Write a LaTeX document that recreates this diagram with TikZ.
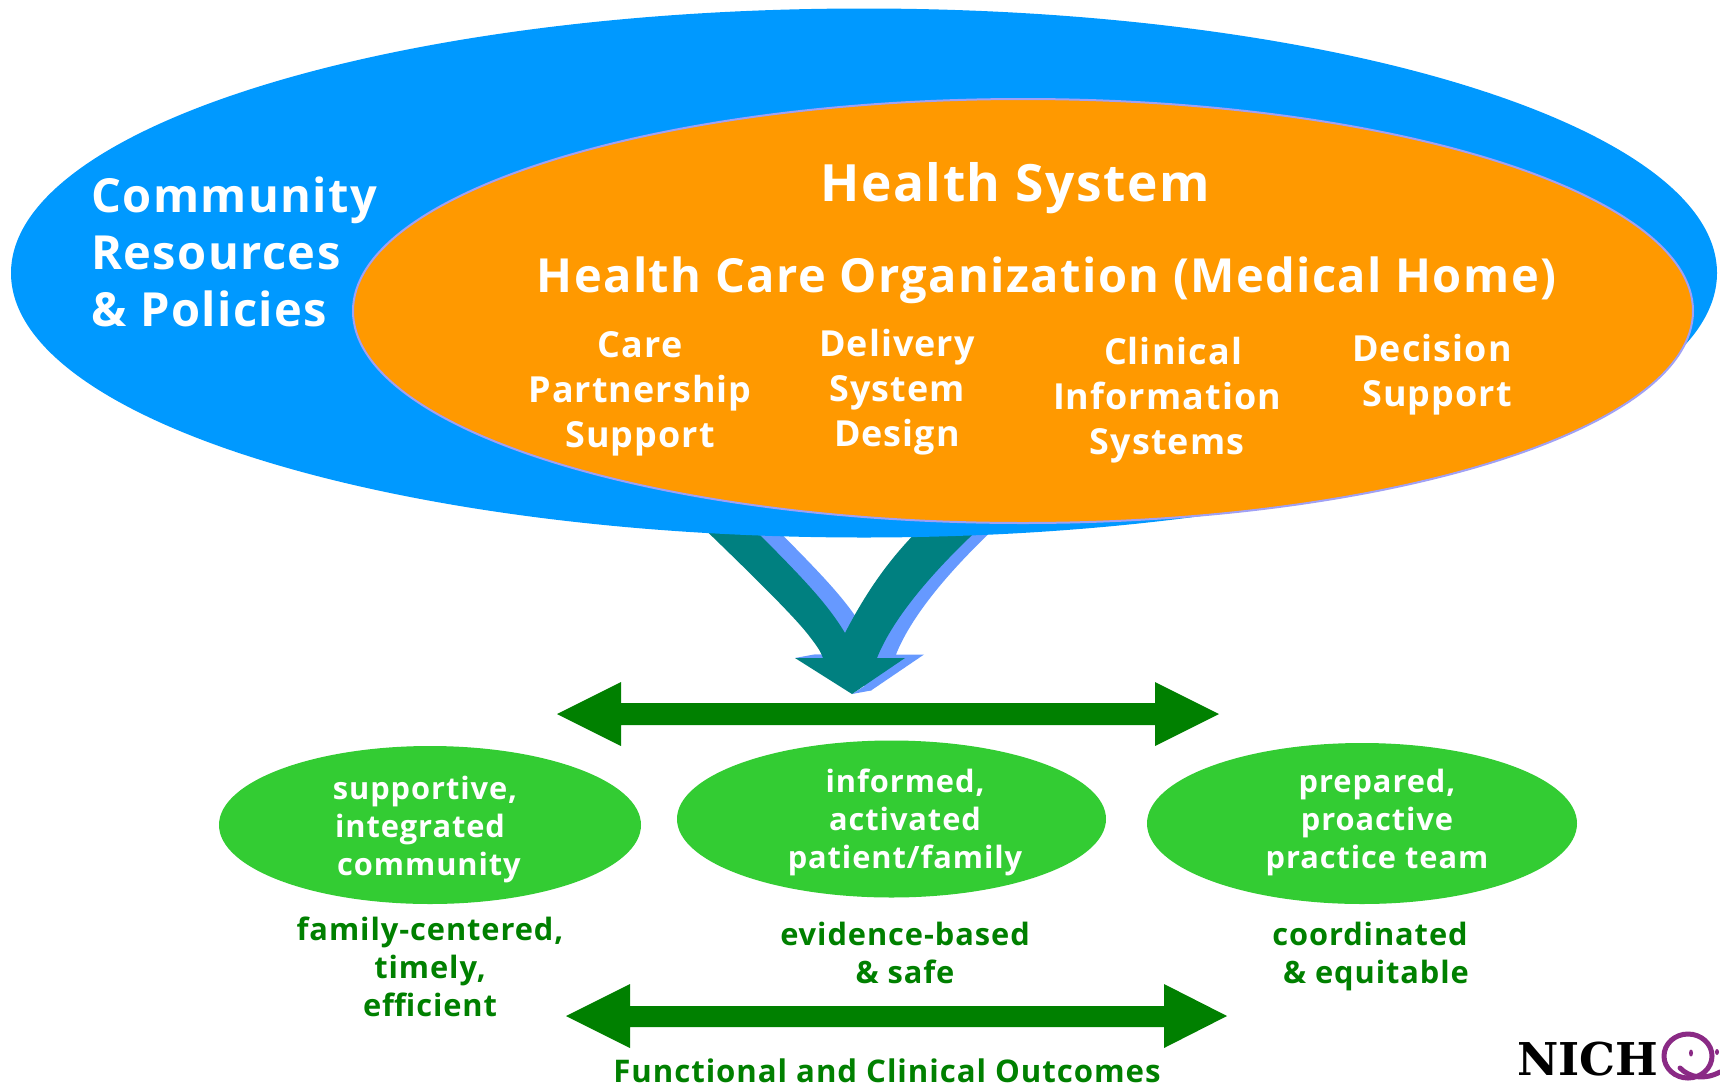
\documentclass[tikz,border=0pt]{standalone}
\usepackage{fontspec}
\setmainfont{Open Sans}[LetterSpace=3]
\newfontfamily\logofont{DejaVu Serif}
\usetikzlibrary{shapes.geometric}
\definecolor{skyblue}{HTML}{0099FF}
\definecolor{amber}{HTML}{FF9900}
\definecolor{rimblue}{HTML}{A0A0F5}
\definecolor{tealc}{HTML}{008080}
\definecolor{shadowc}{HTML}{6699FF}
\definecolor{darkg}{HTML}{008000}
\definecolor{lightg}{HTML}{33CC33}
\definecolor{logoq}{HTML}{8A2A85}
\tikzset{
  x=0.5pt,y=-0.5pt,
  oval/.style={ellipse,inner sep=0pt,outer sep=0pt},
  big/.style={anchor=base,inner sep=0pt,text=white,font=\bfseries\fontsize{23.5}{28.5}\selectfont,align=center},
  mid/.style={anchor=base,inner sep=0pt,text=white,font=\bfseries\fontsize{17.95}{22.5}\selectfont,align=center},
  small/.style={anchor=base,inner sep=0pt,text=white,font=\bfseries\fontsize{15.4}{19}\selectfont,align=center},
  dgtext/.style={small,text=darkg},
  dblarrow/.style={fill=darkg,draw=none},
}
\newcommand{\vpath}{(680,505) .. controls (710,535) and (790,610) .. (810,637) .. controls (817,646) and (821,652) .. (823,658) -- (795,658) -- (852,694) -- (905,658) -- (877,658) .. controls (890,625) and (925,575) .. (1005,505) -- (945,505) .. controls (905,540) and (875,575) .. (845,633) .. controls (825,600) and (800,575) .. (730,505) -- cycle}
\begin{document}
\begin{tikzpicture}
\useasboundingbox (0,0) rectangle (1720,1088);
\clip (0,0) rectangle (1720,1088);
\fill[white] (0,0) rectangle (1720,1088);
% merging arrow and its shadow
\fill[shadowc,shift={(19,-3.5)}] \vpath;
\fill[shadowc] (795,658) -- (814,654.5) -- (830,654.5) -- (830,658) -- cycle;
\fill[shadowc] (852,694) -- (871,690.5) -- (890,670) -- cycle;
\fill[tealc] \vpath;
% big ellipses
\node[oval,fill=skyblue,minimum width=853pt,minimum height=264.5pt] (community) at (864,273) {};
\node[oval,fill=amber,draw=rimblue,line width=1pt,minimum width=670pt,minimum height=212pt] (health) at (1023,311) {};
\node[big,align=left,anchor=base west] (commtext) at (91,326) {Community\\Resources\\\& Policies};
\node[big,font=\bfseries\fontsize{25.7}{30}\selectfont] (hs) at (1015,201) {Health System};
\node[big,font=\bfseries\fontsize{23.5}{28}\selectfont] (hco) at (1046.5,292) {Health Care Organization (Medical Home)};
\node[mid] (care) at (640,447) {Care\\Partnership\\Support};
\node[mid] (delivery) at (897,446) {Delivery\\System\\Design};
\node[mid] (clinical) at (1167,454) {\hspace*{6pt}Clinical\\Information\\Systems};
\node[mid] (decision) at (1432,406) {Decision\\\hspace*{5pt}Support};
% double arrows
\fill[dblarrow] (557,714) -- (621,682) -- (621,703) -- (1155,703) -- (1155,682) -- (1219,714) -- (1155,746) -- (1155,725) -- (621,725) -- (621,746) -- cycle;
\fill[dblarrow] (566,1016) -- (630,984) -- (630,1006) -- (1164,1006) -- (1164,984) -- (1227,1016) -- (1164,1048) -- (1164,1027) -- (630,1027) -- (630,1048) -- cycle;
% green ellipses
\node[oval,fill=lightg,minimum width=211pt,minimum height=79pt] (g1) at (430,825) {};
\node[oval,fill=lightg,minimum width=214.5pt,minimum height=78.5pt] (g2) at (891.5,819) {};
\node[oval,fill=lightg,minimum width=215pt,minimum height=80.5pt] (g3) at (1362,823.5) {};
\node[small] (t1) at (429,875) {\mbox{supportive,\hspace{4pt}}\\\mbox{integrated\hspace{9pt}}\\community};
\node[small] (t2) at (905,868) {informed,\\activated\\patient/family};
\node[small] (t3) at (1377,868) {prepared,\\proactive\\practice team};
\node[dgtext] (o1) at (430,1016) {family-centered,\\timely,\\efficient};
\node[dgtext] (o2) at (905,983) {evidence-based\\\& safe};
\node[dgtext] (o3) at (1376,983) {coordinated\hspace*{6pt}\\\& equitable};
\node[dgtext,font=\bfseries\fontsize{15.6}{19}\selectfont] (fc) at (887,1082) {Functional and Clinical Outcomes};
% logo
\node[anchor=base west,inner sep=0pt,font=\logofont\bfseries\fontsize{22.6}{24}\selectfont] (nich) at (1517,1075) {NICH};
\draw[logoq,line width=2.5pt] (1688,1056) ellipse [x radius=24,y radius=22];
\draw[logoq,line width=2.5pt,line cap=round] (1680,1068) .. controls (1690,1078) and (1705,1080) .. (1720,1072);
\fill[logoq] (1691,1053) ellipse [x radius=2,y radius=3.5];
\fill[logoq] (1717,1052) ellipse [x radius=2,y radius=3];
\end{tikzpicture}
\end{document}
